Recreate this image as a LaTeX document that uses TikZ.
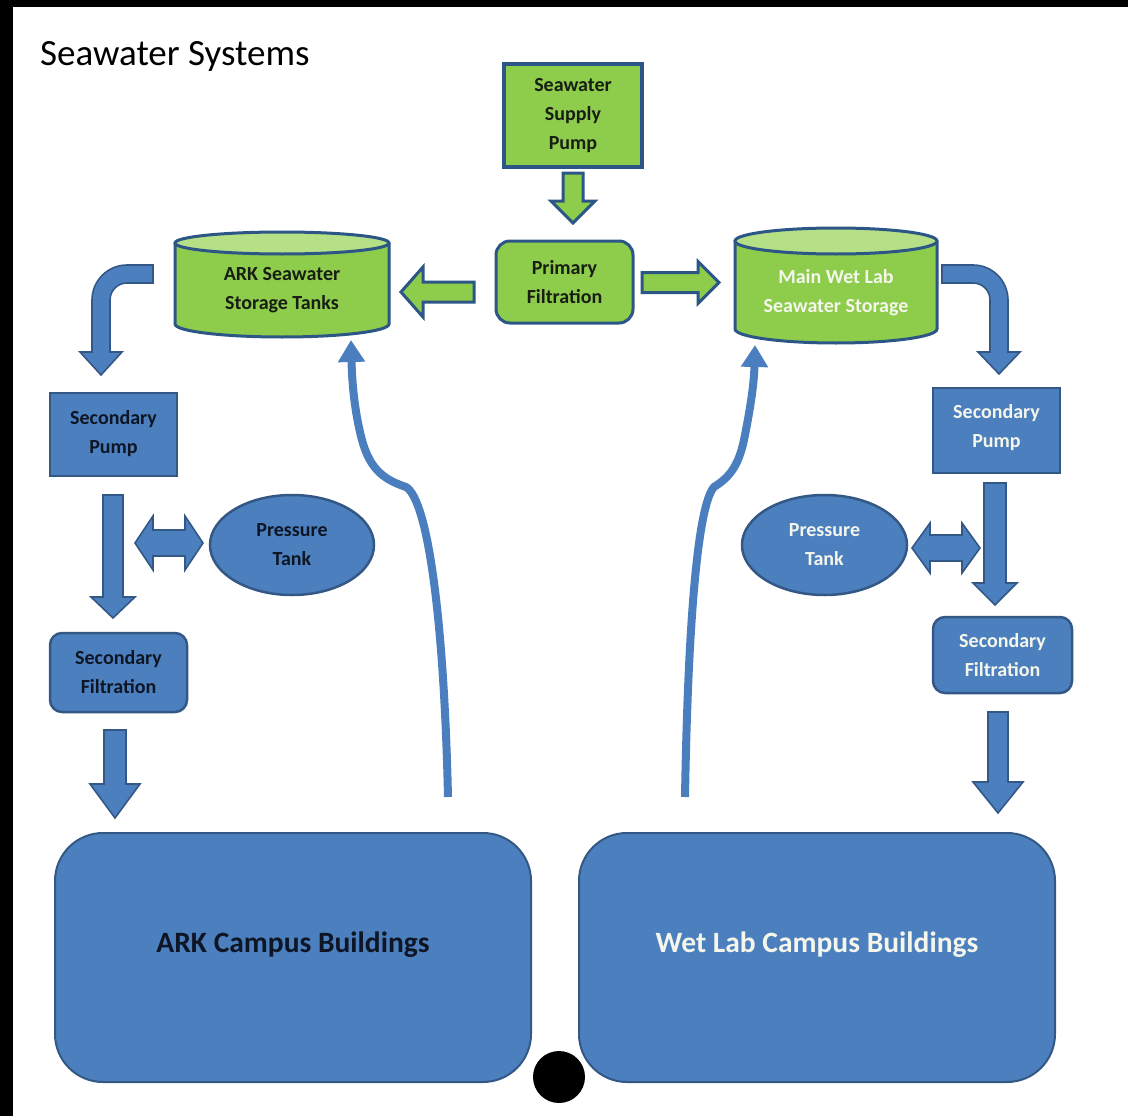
\documentclass[tikz,border=0pt]{standalone}
\usepackage{fontspec}
\setmainfont{Carlito}
\usetikzlibrary{calc,arrows.meta,shapes.geometric}
\definecolor{gfill}{RGB}{142,204,76}
\definecolor{gtop}{RGB}{182,224,134}
\definecolor{gborder}{RGB}{44,86,134}
\definecolor{bfill}{RGB}{76,127,189}
\definecolor{bborder}{RGB}{52,88,134}
\definecolor{cline}{RGB}{74,126,190}
\definecolor{darktxt}{RGB}{24,30,20}
\definecolor{navytxt}{RGB}{14,22,38}
\definecolor{lighttxt}{RGB}{244,246,236}
\tikzset{
  lbl/.style={font=\bfseries\fontsize{20}{29}\selectfont, align=center, inner sep=0},
  greenbox/.style={lbl, draw=gborder, line width=3.5, fill=gfill, text=darktxt},
  bluebox/.style={lbl, draw=bborder, line width=2.5, fill=bfill},
  garrow/.style={draw=gborder, line width=3, fill=gfill, line join=miter},
  barrow/.style={draw=bborder, line width=1.6, fill=bfill, line join=miter},
  curvearrow/.style={draw=cline, line width=8, -{Triangle[length=22pt,width=26pt]}},
}
% block arrow: style, start, tip, shaft half, head half, head length
\newcommand\blockarrow[6]{%
  \coordinate (ba-h) at ($(#3)!#6!(#2)$);
  \draw[#1] ($(#2)!#4!90:(#3)$) -- ($(ba-h)!#4!90:(#3)$) -- ($(ba-h)!#5!90:(#3)$)
    -- (#3) -- ($(ba-h)!#5!-90:(#3)$) -- ($(ba-h)!#4!-90:(#3)$) -- ($(#2)!#4!-90:(#3)$) -- cycle;}
% double block arrow: style, tip A, tip B, shaft half, head half, head length
\newcommand\dblarrow[6]{%
  \coordinate (da-a) at ($(#2)!#6!(#3)$);
  \coordinate (da-b) at ($(#3)!#6!(#2)$);
  \draw[#1] (#2) -- ($(da-a)!#5!90:(#3)$) -- ($(da-a)!#4!90:(#3)$) -- ($(da-b)!#4!-90:(#2)$)
    -- ($(da-b)!#5!-90:(#2)$) -- (#3) -- ($(da-b)!#5!90:(#2)$) -- ($(da-b)!#4!90:(#2)$)
    -- ($(da-a)!#4!-90:(#3)$) -- ($(da-a)!#5!-90:(#3)$) -- cycle;}
\begin{document}
\begin{tikzpicture}[x=1pt,y=-1pt]
\useasboundingbox (0,0) rectangle (1128,1116);
\fill[white] (0,0) rectangle (1128,1116);
% black frame edges (top and left)
\fill[black] (0,0) rectangle (1128,7);
\fill[black] (0,0) rectangle (13,1116);

% title
\node[anchor=base west, inner sep=0, font=\fontsize{37}{44}\selectfont] (title) at (40,66) {Seawater Systems};

% green boxes
\node[greenbox, minimum width=138, minimum height=103] (supply) at (573,115.5) {Seawater\\Supply\\Pump};
\node[greenbox, line width=3, rounded corners=14, minimum width=137, minimum height=82] (primary) at (564.5,282) {Primary\\Filtration};

% ARK storage cylinder
\fill[gfill] (175,243) -- (175,324) .. controls (175,331.2) and (222.9,337) .. (282,337)
  .. controls (341.1,337) and (389,331.2) .. (389,324) -- (389,243) -- cycle;
\draw[gborder, line width=3] (175,243) -- (175,324) .. controls (175,331.2) and (222.9,337) .. (282,337)
  .. controls (341.1,337) and (389,331.2) .. (389,324) -- (389,243);
\draw[gborder, line width=3, fill=gtop] (282,243) ellipse [x radius=107pt, y radius=11pt];
\node[lbl, text=darktxt, minimum width=214, minimum height=80] (ark) at (282,290) {ARK Seawater\\Storage Tanks};

% Main wet lab storage cylinder
\fill[gfill] (735,241) -- (735,329) .. controls (735,336.7) and (780.2,343) .. (836,343)
  .. controls (891.8,343) and (937,336.7) .. (937,329) -- (937,241) -- cycle;
\draw[gborder, line width=3] (735,241) -- (735,329) .. controls (735,336.7) and (780.2,343) .. (836,343)
  .. controls (891.8,343) and (937,336.7) .. (937,329) -- (937,241);
\draw[gborder, line width=3, fill=gtop] (836,241) ellipse [x radius=101pt, y radius=13pt];
\node[lbl, text=lighttxt, minimum width=202, minimum height=80] (wetstore) at (836,293) {Main Wet Lab\\Seawater Storage};

% blue boxes
\node[bluebox, text=navytxt, minimum width=127, minimum height=83, text depth=6pt] (pumpL) at (113.5,434.5) {Secondary\\Pump};
\node[bluebox, text=lighttxt, minimum width=127, minimum height=85, text depth=10pt] (pumpR) at (996.5,430.5) {Secondary\\Pump};
\node[bluebox, text=navytxt, ellipse, minimum width=164, minimum height=100] (tankL) at (292,545) {Pressure\\Tank};
\node[bluebox, text=lighttxt, ellipse, minimum width=165, minimum height=100] (tankR) at (824.5,545) {Pressure\\Tank};
\node[bluebox, text=navytxt, rounded corners=12, minimum width=137, minimum height=79] (filtL) at (118.5,672.5) {Secondary\\Filtration};
\node[bluebox, text=lighttxt, rounded corners=12, minimum width=139, minimum height=76] (filtR) at (1002.5,655) {Secondary\\Filtration};

% campus buildings
\node[draw=bborder, line width=2, fill=bfill, rounded corners=48, minimum width=476, minimum height=249] (arkb) at (293,957.5) {};
\node[font=\bfseries\fontsize{29.5}{34}\selectfont, text=navytxt, inner sep=0] (arkbt) at (293,945) {ARK Campus Buildings};
\node[draw=bborder, line width=2, fill=bfill, rounded corners=48, minimum width=476, minimum height=249] (wetb) at (817,957.5) {};
\node[font=\bfseries\fontsize{29.5}{34}\selectfont, text=lighttxt, inner sep=0] (wetbt) at (817,945) {Wet Lab Campus Buildings};

% black dot
\fill[black] (559,1077) circle [radius=26pt];

% connector end points
\coordinate (s1) at (573,173);   \coordinate (t1) at (573,223);
\coordinate (s2) at (474,292);   \coordinate (t2) at (401,292);
\coordinate (s3) at (642,282.5); \coordinate (t3) at (719,282.5);
\coordinate (s4) at (113,495);   \coordinate (t4) at (113,618);
\coordinate (d5a) at (135,543);  \coordinate (d5b) at (203,543);
\coordinate (s6) at (115,730);   \coordinate (t6) at (115,818);
\coordinate (s7) at (995,483);   \coordinate (t7) at (995,605);
\coordinate (d8a) at (912,548);  \coordinate (d8b) at (980,548);
\coordinate (s9) at (998,712);   \coordinate (t9) at (998,813);

% green block arrows
\blockarrow{garrow}{s1}{t1}{10pt}{22pt}{22pt}
\blockarrow{garrow}{s2}{t2}{10pt}{25pt}{22pt}
\blockarrow{garrow}{s3}{t3}{10pt}{21pt}{21pt}

% blue block arrows
\blockarrow{barrow}{s4}{t4}{10pt}{22pt}{21pt}
\dblarrow{barrow}{d5a}{d5b}{13pt}{27pt}{18pt}
\blockarrow{barrow}{s6}{t6}{11pt}{25pt}{34pt}
\blockarrow{barrow}{s7}{t7}{11pt}{22pt}{22pt}
\dblarrow{barrow}{d8a}{d8b}{13pt}{25pt}{18pt}
\blockarrow{barrow}{s9}{t9}{10pt}{25pt}{31pt}

% bent arrows from storage to secondary pumps
\draw[barrow] (153,265) -- (127,265) .. controls (107.7,265) and (92,280.7) .. (92,300) -- (92,352)
  -- (80,352) -- (101,375) -- (122,352) -- (110,352) -- (110,300)
  .. controls (110,290.6) and (117.6,283) .. (127,283) -- (153,283) -- cycle;
\draw[barrow] (942,265) -- (973,265) .. controls (992.3,265) and (1008,280.7) .. (1008,300) -- (1008,352)
  -- (1020,352) -- (999,374) -- (978,352) -- (990,352) -- (990,300)
  .. controls (990,290.6) and (982.6,283) .. (973,283) -- (942,283) -- cycle;

% return lines from buildings to storage
\coordinate (rL0) at (448,797); \coordinate (rL1) at (351,340);
\coordinate (rR0) at (685,797); \coordinate (rR1) at (755,345);
\draw[curvearrow] (rL0) .. controls (444,620) and (428,500) .. (406,487)
  .. controls (385,480) and (370,470) .. (362,440) .. controls (354,410) and (352,380) .. (rL1);
\draw[curvearrow] (rR0) .. controls (688,620) and (698,505) .. (714,487)
  .. controls (728,478) and (738,468) .. (744,440) .. controls (750,410) and (754,385) .. (rR1);
\end{tikzpicture}
\end{document}
